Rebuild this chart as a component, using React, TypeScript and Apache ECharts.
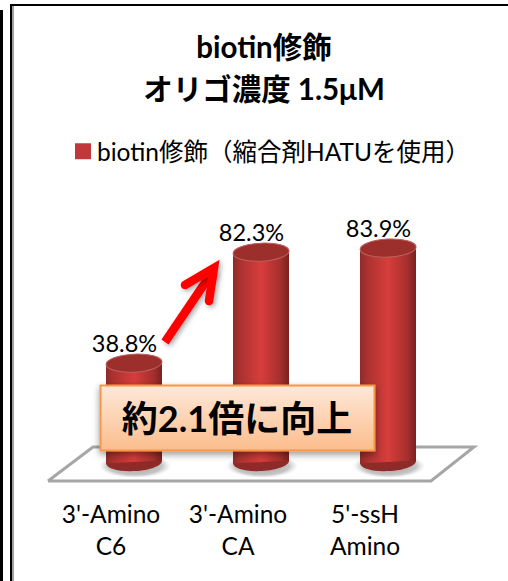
import React, { useEffect, useRef } from "react";
import * as echarts from "echarts";

const categories = ["3'-Amino\nC6", "3'-Amino\nCA", "5'-ssH\nAmino"];
const values = [38.8, 82.3, 83.9];
const seriesName = "biotin修飾（縮合剤HATUを使用）";
const titleText = "biotin修飾\nオリゴ濃度 1.5μM";
const calloutText = "約2.1倍に向上";
const FONT = "Lato, 'Noto Sans CJK JP', sans-serif";

function bodyFill() {
  return new echarts.graphic.LinearGradient(0, 0, 1, 0, [
    { offset: 0, color: "#8f2b29" },
    { offset: 0.12, color: "#a93230" },
    { offset: 0.5, color: "#d73d3b" },
    { offset: 0.85, color: "#a52f2d" },
    { offset: 1, color: "#772220" },
  ]);
}

function renderCylinder(params: any, api: any) {
  const v = api.value(1);
  const top = api.coord([api.value(0), v]);
  const base = api.coord([api.value(0), 0]);
  const cx = top[0];
  const rx = 28;
  const ry = 9;
  const tilt = 0.05;
  return {
    type: "group",
    children: [
      {
        type: "ellipse",
        shape: { cx: cx + 1, cy: base[1] + 4, rx: rx + 8, ry: ry + 3 },
        style: {
          fill: new echarts.graphic.RadialGradient(0.5, 0.5, 0.5, [
            { offset: 0, color: "rgba(90,90,90,0.6)" },
            { offset: 0.75, color: "rgba(110,110,110,0.4)" },
            { offset: 1, color: "rgba(160,160,160,0)" },
          ]),
        },
      },
      {
        type: "ellipse",
        shape: { cx, cy: base[1], rx, ry },
        rotation: tilt,
        originX: cx,
        originY: base[1],
        style: { fill: "#8e2a28" },
      },
      {
        type: "polygon",
        shape: {
          points: [
            [cx - rx, top[1] + 1.5],
            [cx + rx, top[1] - 1.5],
            [cx + rx, base[1] - 1.5],
            [cx - rx, base[1] + 1.5],
          ],
        },
        style: { fill: bodyFill() },
      },
      {
        type: "ellipse",
        shape: { cx, cy: top[1], rx, ry },
        rotation: tilt,
        originX: cx,
        originY: top[1],
        style: { fill: "#9c2e2c", stroke: "#b9605e", lineWidth: 1 },
      },
      {
        type: "text",
        x: cx - 9.5,
        y: top[1] - 20.5,
        style: {
          text: v.toFixed(1) + "%",
          font: "23.5px " + FONT,
          fill: "#000",
          align: "center",
          verticalAlign: "middle",
        },
      },
    ],
  };
}

export default function App() {
  const ref = useRef<HTMLDivElement>(null);
  useEffect(() => {
    const chart = echarts.init(ref.current!, undefined, { renderer: "svg" });
    chart.setOption({
      animation: false,
      backgroundColor: "#fff",
      title: {
        text: titleText,
        left: 259,
        top: 20,
        textAlign: "center",
        textStyle: { fontFamily: FONT, fontSize: 29.5, fontWeight: "bold", color: "#000", lineHeight: 42 },
      },
      legend: {
        data: [{ name: seriesName, icon: "rect" }],
        left: 75,
        top: 139,
        padding: 0,
        itemWidth: 16,
        itemHeight: 16,
        itemGap: 6,
        textStyle: { fontFamily: FONT, fontSize: 24.5, color: "#000", padding: [0, 0, 0, 1] },
      },
      grid: { left: 70.5, width: 381, top: 207, height: 255 },
      xAxis: {
        type: "category",
        data: categories,
        axisLine: { show: false },
        axisTick: { show: false },
        axisLabel: {
          fontFamily: FONT,
          fontSize: 24.5,
          lineHeight: 32,
          color: "#000",
          margin: 35,
          interval: 0,
          padding: [0, 46, 0, 0],
        },
      },
      yAxis: { type: "value", min: 0, max: 100, show: false },
      graphic: [
        { type: "polyline", silent: true, z: 0, shape: { points: [[48, 481], [431, 481], [474, 447], [93, 447], [48, 481]] }, style: { stroke: "#a6a6a6", lineWidth: 3, fill: "#fff" } },
        { type: "line", z: 0, shape: { x1: 1.5, y1: 10, x2: 1.5, y2: 581 }, style: { stroke: "#000", lineWidth: 3 } },
        { type: "line", z: 0, shape: { x1: 13, y1: 6, x2: 13, y2: 581 }, style: { stroke: "#a0a0a0", lineWidth: 2 } },
        { type: "polyline", z: 0, shape: { points: [[11, 581], [11, 5], [508, 5]] }, style: { stroke: "#000", lineWidth: 2, fill: "none" } },
        { type: "polyline", z: 100, shape: { points: [[165, 342], [213, 271]] }, style: { stroke: "#ff0000", lineWidth: 8.5, shadowBlur: 5, shadowColor: "rgba(0,0,0,0.35)", shadowOffsetX: 2, shadowOffsetY: 2 } },
        { type: "polyline", z: 100, shape: { points: [[185, 285], [214, 268], [209, 301]] }, style: { stroke: "#ff0000", lineWidth: 8.5, lineCap: "round", lineJoin: "miter", fill: "none", shadowBlur: 5, shadowColor: "rgba(0,0,0,0.35)", shadowOffsetX: 2, shadowOffsetY: 2 } },
        {
          type: "rect",
          z: 100,
          shape: { x: 100.5, y: 385.5, width: 274, height: 65 },
          style: {
            fill: new echarts.graphic.LinearGradient(0, 0, 0, 1, [
              { offset: 0, color: "#fee8d9" },
              { offset: 1, color: "#fbbd8c" },
            ]),
            stroke: "#f79646",
            lineWidth: 2,
            shadowBlur: 7,
            shadowColor: "rgba(0,0,0,0.4)",
            shadowOffsetY: 3,
          },
        },
        {
          type: "text",
          z: 101,
          x: 237,
          y: 418,
          style: { text: calloutText, font: "bold 36px " + FONT, fill: "#000", align: "center", verticalAlign: "middle" },
        },
      ],
      series: [
        {
          type: "custom",
          name: seriesName,
          z: 2,
          itemStyle: { color: "#c0383a" },
          renderItem: renderCylinder,
          encode: { x: 0, y: 1 },
          data: values.map((v, i) => [i, v]),
        },
      ],
    });
    return () => chart.dispose();
  }, []);
  return <div ref={ref} style={{ position: "fixed", left: 0, top: 0, width: 508, height: 581 }} />;
}
